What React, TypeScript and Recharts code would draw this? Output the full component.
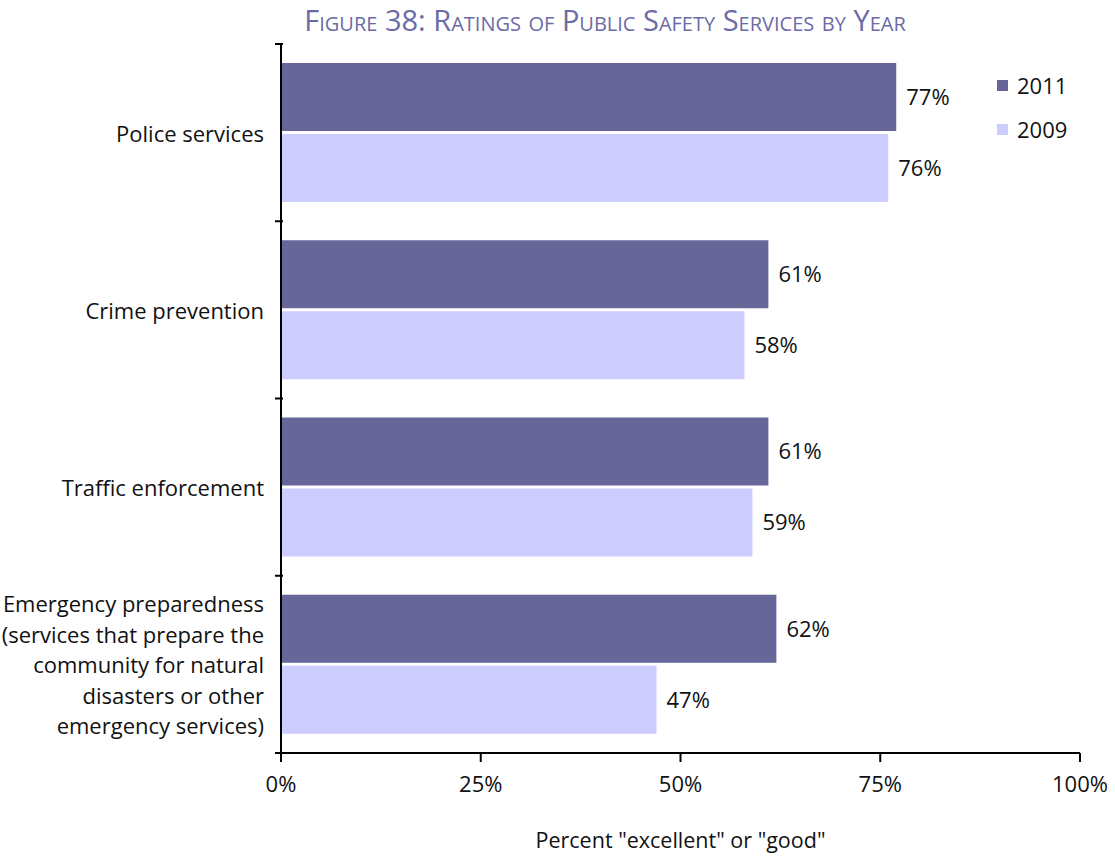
import { BarChart, Bar, XAxis, YAxis, LabelList } from "recharts"

const categories = [
  "Police services",
  "Crime prevention",
  "Traffic enforcement",
  "Emergency preparedness (services that prepare the community for natural disasters or other emergency services)",
]
const labelLines: Record<string, string[]> = {
  "Emergency preparedness (services that prepare the community for natural disasters or other emergency services)": [
    "Emergency preparedness",
    "(services that prepare the",
    "community for natural",
    "disasters or other",
    "emergency services)",
  ],
}
const values2011 = [77, 61, 61, 62]
const values2009 = [76, 58, 59, 47]
const xTicks = [0, 25, 50, 75, 100]
const series = [
  { key: "y2011", name: "2011", color: "#666699" },
  { key: "y2009", name: "2009", color: "#ccccff" },
]

const data = categories.map((name, i) => ({ name, y2011: values2011[i], y2009: values2009[i] }))

const FONT = "'Open Sans', sans-serif"
const W = 1115
const H = 856
const X_AXIS_H = 103
const M = { top: 44, right: 35, bottom: 0, left: 0 }
const band = (H - M.top - X_AXIS_H) / categories.length

const CategoryTick = (props: any) => {
  const { x, y, payload, index } = props
  const lines = labelLines[payload.value] || [payload.value]
  const lh = 30.5
  const start = y - ((lines.length - 1) * lh) / 2
  const axisX = x + 10
  return (
    <g>
      <line x1={axisX - 8} x2={axisX} y1={y - band / 2} y2={y - band / 2} stroke="#000" strokeWidth={2} />
      {index === categories.length - 1 && (
        <line x1={axisX - 8} x2={axisX} y1={y + band / 2} y2={y + band / 2} stroke="#000" strokeWidth={2} />
      )}
      <text x={x - 9} y={start} textAnchor="end" dominantBaseline="central" fontFamily={FONT} fontSize={22} fill="#111">
        {lines.map((l, i) => (
          <tspan key={i} x={x - 9} dy={i === 0 ? 0 : lh}>
            {l}
          </tspan>
        ))}
      </text>
    </g>
  )
}

export default function App() {
  return (
    <div style={{ position: "absolute", left: 0, top: 0, width: W, height: H, background: "#fff" }}>
      <div
        style={{
          position: "absolute",
          top: 0,
          left: 205,
          width: 800,
          textAlign: "center",
          fontFamily: FONT,
          fontVariant: "small-caps",
          fontSize: 29,
          color: "#6b6ba6",
          whiteSpace: "nowrap",
        }}
      >
        Figure 38: Ratings of Public Safety Services by Year
      </div>
      <div style={{ position: "absolute", left: 997, top: 63, fontFamily: FONT, fontSize: 22, color: "#111" }}>
        {series.map((s) => (
          <div key={s.key} style={{ display: "flex", alignItems: "center", height: 44 }}>
            <span style={{ width: 11, height: 11, background: s.color, marginRight: 9, display: "inline-block" }} />
            {s.name}
          </div>
        ))}
      </div>
      <BarChart
        width={W}
        height={H}
        data={data}
        layout="vertical"
        margin={M}
        barCategoryGap={19}
        barGap={3}
      >
        <XAxis
          type="number"
          domain={[0, 100]}
          ticks={xTicks}
          tickFormatter={(v) => `${v}%`}
          axisLine={{ stroke: "#000", strokeWidth: 2 }}
          tickLine={{ stroke: "#000", strokeWidth: 2 }}
          tickSize={9}
          tickMargin={14}
          tick={{ fontFamily: FONT, fontSize: 22, fill: "#111" }}
          height={X_AXIS_H}
          label={{
            value: 'Percent "excellent" or "good"',
            position: "insideBottom",
            offset: 8,
            style: { fontFamily: FONT, fontSize: 21.5, fill: "#111" },
          }}
        />
        <YAxis
          type="category"
          dataKey="name"
          width={281}
          axisLine={{ stroke: "#000", strokeWidth: 2 }}
          tickLine={false}
          tick={<CategoryTick />}
          interval={0}
        />
        {series.map((s) => (
          <Bar key={s.key} dataKey={s.key} name={s.name} fill={s.color} isAnimationActive={false}>
            <LabelList
              dataKey={s.key}
              position="right"
              offset={10}
              formatter={(v: any) => `${v}%`}
              style={{ fontFamily: FONT, fontSize: 22, fill: "#111" }}
            />
          </Bar>
        ))}
      </BarChart>
    </div>
  )
}
